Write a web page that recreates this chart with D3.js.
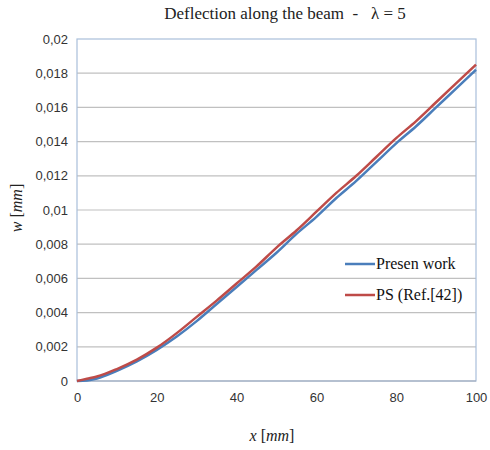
<!DOCTYPE html>
<html lang="en">
<head>
<meta charset="utf-8">
<title>Deflection along the beam</title>
<script src="https://cdnjs.cloudflare.com/ajax/libs/d3/7.8.5/d3.min.js"></script>
<style>
  body { margin: 0; background: #fff; }
</style>
</head>
<body>
<svg id="chart" width="490" height="450"></svg>
<script>
// values
const xs = [0, 2.5, 5, 10, 15, 20, 25, 30, 35, 40, 45, 50, 55, 60, 65, 70, 75, 80, 85, 90, 95, 100];
const presenWork = [0, 0.00003, 0.00015, 0.0006, 0.00115, 0.00182, 0.0026, 0.0035, 0.0045, 0.0055, 0.0065,
  0.0075, 0.0086, 0.0096, 0.0107, 0.0117, 0.0128, 0.0139, 0.0149, 0.0160, 0.0171, 0.0182];
const psRef = [0, 0.00013, 0.00026, 0.0007, 0.00125, 0.00195, 0.0028, 0.00375, 0.0047, 0.0057, 0.0067,
  0.0078, 0.0088, 0.0099, 0.0110, 0.0120, 0.0131, 0.0142, 0.0152, 0.0163, 0.0174, 0.0185];
const xTicks = [0, 20, 40, 60, 80, 100];
const yTicks = [0, 0.002, 0.004, 0.006, 0.008, 0.01, 0.012, 0.014, 0.016, 0.018, 0.02];
const seriesNames = ["Presen work", "PS (Ref.[42])"];
const seriesColors = ["#4a7ebb", "#be4b48"];

const svg = d3.select("#chart");
const m = { left: 77, right: 476, top: 39, bottom: 381 };

const x = d3.scaleLinear().domain([0, 100]).range([m.left, m.right]);
const y = d3.scaleLinear().domain([0, 0.02]).range([m.bottom, m.top]);

// y labels use comma decimals like the original
const fmtY = d => d === 0 ? "0" : String(+d.toFixed(3)).replace(".", ",");

// gridlines
svg.append("g")
  .selectAll("line")
  .data(yTicks.filter(d => d > 0 && d < 0.02))
  .enter().append("line")
  .attr("x1", m.left).attr("x2", m.right)
  .attr("y1", d => y(d)).attr("y2", d => y(d))
  .style("stroke", "#c0c0c0").style("stroke-width", 1.2);

// frame
svg.append("rect")
  .attr("x", m.left).attr("y", m.top)
  .attr("width", m.right - m.left).attr("height", m.bottom - m.top)
  .style("fill", "none").style("stroke", "#a9bfda").style("stroke-width", 1.2);
svg.append("line")
  .attr("x1", m.left).attr("x2", m.right)
  .attr("y1", m.bottom).attr("y2", m.bottom)
  .style("stroke", "#a0a8b8").style("stroke-width", 1.2);

// axes (labels only)
const yAxis = svg.append("g")
  .attr("transform", `translate(${m.left},0)`)
  .call(d3.axisLeft(y).tickValues(yTicks).tickFormat(fmtY).tickSize(0).tickPadding(9));
const xAxis = svg.append("g")
  .attr("transform", `translate(0,${m.bottom})`)
  .call(d3.axisBottom(x).tickValues(xTicks).tickSize(0).tickPadding(12));
[yAxis, xAxis].forEach(a => {
  a.select(".domain").remove();
  a.selectAll("text")
    .style("font-family", "Liberation Sans, Arial, sans-serif")
    .style("font-size", "13px")
    .style("fill", "#333");
});

// lines
const series = [presenWork, psRef];
const line = d3.line()
  .x((d, i) => x(xs[i]))
  .y(d => y(d))
  .curve(d3.curveMonotoneX);

series.forEach((s, k) => {
  svg.append("path")
    .datum(s)
    .attr("d", line)
    .style("fill", "none")
    .style("stroke", seriesColors[k])
    .style("stroke-width", 2.5)
    .style("stroke-linejoin", "round");
});

// legend
const leg = svg.append("g");
seriesNames.forEach((name, k) => {
  const ly = 264 + k * 31;
  leg.append("line")
    .attr("x1", 345).attr("x2", 375)
    .attr("y1", ly).attr("y2", ly)
    .style("stroke", seriesColors[k]).style("stroke-width", 2.5);
  leg.append("text")
    .attr("x", 376).attr("y", ly + 5)
    .style("font-family", "Liberation Serif, Times New Roman, serif")
    .style("font-size", "16px")
    .style("fill", "#111")
    .text(name);
});

// title
svg.append("text")
  .attr("x", 285).attr("y", 19)
  .attr("text-anchor", "middle")
  .style("font-family", "Liberation Serif, Times New Roman, serif")
  .style("font-size", "17px")
  .style("fill", "#222")
  .attr("xml:space", "preserve")
  .text("Deflection along the beam  -   \u03bb = 5");

// axis titles
const xt = svg.append("text")
  .attr("x", 272).attr("y", 441)
  .attr("text-anchor", "middle")
  .style("font-family", "Liberation Serif, Times New Roman, serif")
  .style("font-size", "16px")
  .style("fill", "#222");
xt.append("tspan").style("font-style", "italic").text("x");
xt.append("tspan").text(" [");
xt.append("tspan").style("font-style", "italic").text("mm");
xt.append("tspan").text("]");

const yt = svg.append("text")
  .attr("transform", "translate(22,208) rotate(-90)")
  .attr("text-anchor", "middle")
  .style("font-family", "Liberation Serif, Times New Roman, serif")
  .style("font-size", "16px")
  .style("fill", "#222");
yt.append("tspan").style("font-style", "italic").text("w");
yt.append("tspan").text(" [");
yt.append("tspan").style("font-style", "italic").text("mm");
yt.append("tspan").text("]");
</script>
</body>
</html>
